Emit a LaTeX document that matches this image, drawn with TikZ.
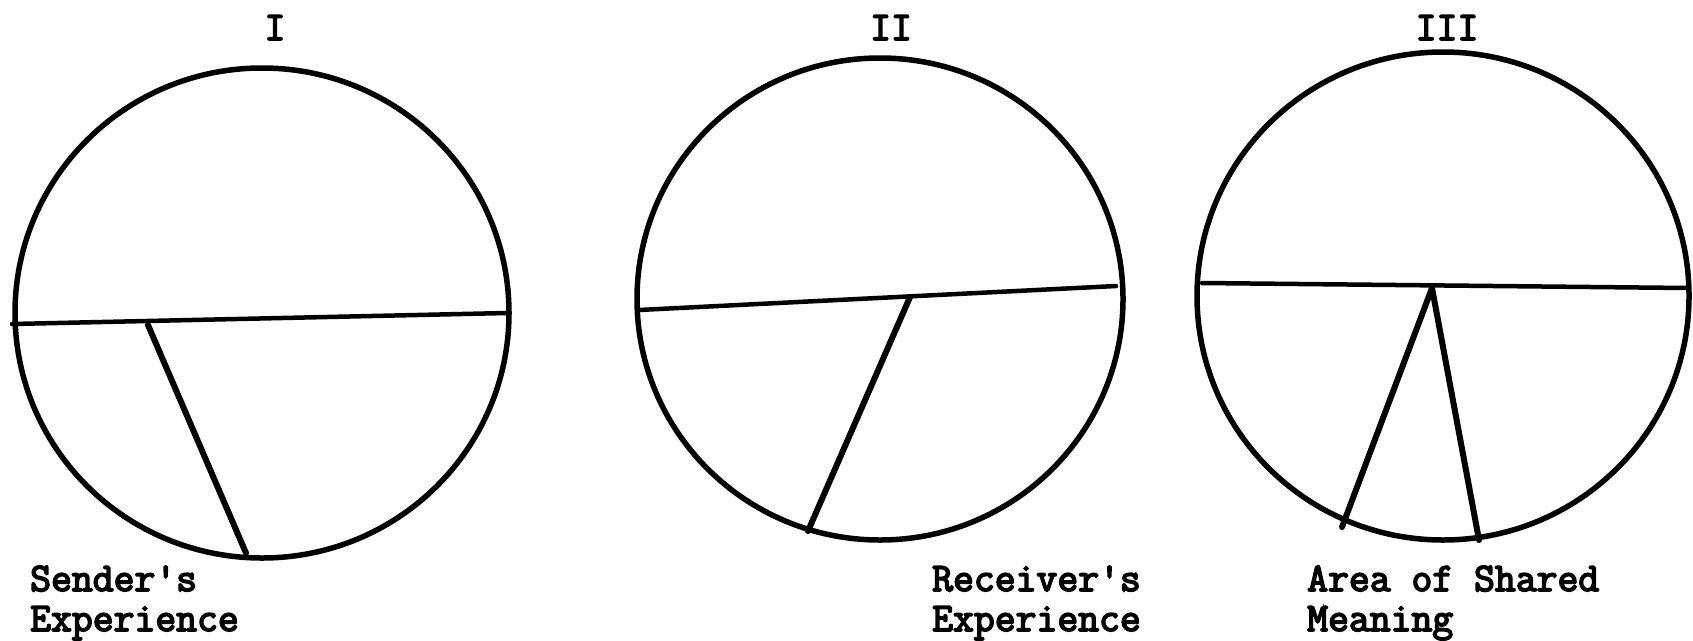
\documentclass[tikz,border=0pt]{standalone}
\usepackage{fontspec}
\newfontfamily\typew{Latin Modern Mono}[FakeBold=4]
\usetikzlibrary{shapes.geometric}
\begin{document}
\begin{tikzpicture}[x=1pt,y=-1pt,
  rim/.style={draw=black,line width=5.5pt},
  chord/.style={draw=black,line width=4.5pt,line cap=round},
  spoke/.style={draw=black,line width=6pt,line cap=round},
  numeral/.style={font=\typew\fontsize{40.5}{40}\selectfont,anchor=base,inner sep=0pt},
  caption/.style={font=\typew\fontsize{40.5}{40}\selectfont,anchor=base west,inner sep=0pt,align=left}]
\useasboundingbox (0,0) rectangle (1693,640);
% ---- Circle I ----
\node[numeral] (nI) at (275,40) {I};
\draw[rim] (262,313) ellipse [x radius=247, y radius=245];
\coordinate (aL) at (12,324);
\coordinate (aR) at (507,313);
\coordinate (aH) at (148,325);
\coordinate (aB) at (246,553);
\draw[chord] (aL) -- (aR);
\draw[spoke] (aH) -- (aB);
\node[caption] (cI) at (30,591) {Sender's};
\node[caption] (cI2) at (30,631) {Experience};
% ---- Circle II ----
\node[numeral] (nII) at (891,40) {II};
\draw[rim] (880,299) ellipse [x radius=243, y radius=241];
\coordinate (bL) at (639,310);
\coordinate (bR) at (1116,286);
\coordinate (bH) at (910,297);
\coordinate (bB) at (808,531);
\draw[chord] (bL) -- (bR);
\draw[spoke] (bH) -- (bB);
\node[caption] (cII) at (932,591) {Receiver's};
\node[caption] (cII2) at (932,631) {Experience};
% ---- Circle III ----
\node[numeral] (nIII) at (1447,40) {III};
\draw[rim] (1443,296) ellipse [x radius=246, y radius=244];
\coordinate (cL) at (1202,283);
\coordinate (cR) at (1688,288);
\coordinate (cH) at (1432,288);
\coordinate (cB1) at (1342,527);
\coordinate (cB2) at (1479,540);
\draw[chord] (cL) -- (cR);
\draw[spoke] (cH) -- (cB1);
\draw[spoke] (cH) -- (cB2);
\node[caption] (cIII) at (1307,591) {Area of Shared};
\node[caption] (cIII2) at (1307,631) {Meaning};
\end{tikzpicture}
\end{document}
